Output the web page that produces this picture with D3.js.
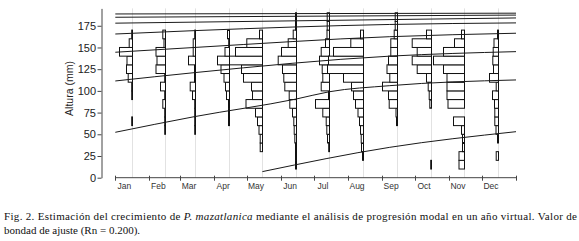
<!DOCTYPE html>
<html>
<head>
<meta charset="utf-8">
<script src="https://cdn.jsdelivr.net/npm/d3@7"></script>
<style>
  body { margin: 0; background: #fff; }
  svg { display: block; }
  .cap { font-family: "Liberation Serif", "DejaVu Serif", serif; font-size: 11px; fill: #111; }
</style>
</head>
<body>
<div id="chart"></div>
<script>
// month axis
const months = ["Jan", "Feb", "Mar", "Apr", "May", "Jun", "Jul", "Aug", "Sep", "Oct", "Nov", "Dec"];
const monthStarts = [0, 31, 59, 90, 120, 151, 181, 212, 243, 273, 304, 334, 365];
// day of the virtual year for each sample
const sampleDays = [15, 45, 73, 104, 134, 165, 195, 226, 257, 288, 318, 349];
const yTicks = [0, 25, 50, 75, 100, 125, 150, 175];

// lower edge of each 10 mm length class
const lengthClasses = [10, 20, 30, 40, 50, 60, 70, 80, 90, 100, 110, 120, 130, 140, 150, 160, 170, 180];

// restructured frequencies per month, same order as lengthClasses
const janFreq = [0, 0, 0, 0, 0, 0.8, 0, 0, 0.8, 0.8, 4.3, 6, 5.5, 13, 3.3, 0.8, 0, 0];
const febFreq = [0, 0, 0, 0, 0.8, 0.8, 0.8, 2.7, 0.8, 5, 0.8, 9.5, 8.5, 9.5, 1.5, 2.7, 0, 0];
const marFreq = [0, 0, 0, 0, 0.8, 0.8, 0.8, 0.8, 3, 5.3, 1, 1, 7, 2.3, 2.3, 0.8, 0, 0];
const aprFreq = [0, 0, 0, 0, 0, 1, 1, 1, 3, 4, 5.5, 8.5, 12, 4.5, 0.8, 2, 0, 0];
const mayFreq = [0, 0, 2.3, 2.3, 3.5, 5, 7, 16.5, 10, 11, 19, 21, 33, 27, 15.7, 3, 0, 0];
const junFreq = [1, 1, 1, 1.7, 2.3, 2.7, 4, 6.7, 7.3, 11.7, 12.7, 14, 18.3, 15, 8.3, 3.3, 1, 1];
const julFreq = [0, 0, 0.8, 2, 2.7, 3.3, 6.7, 14, 1, 8.3, 6.7, 7.3, 10, 8.3, 4, 2.5, 2.3, 2.3];
const augFreq = [0, 1, 2, 2.3, 3, 4, 5.5, 8, 10, 12, 20, 36, 35, 30, 12.7, 3, 0, 0];
const sepFreq = [0, 0, 0, 0, 0, 1, 1.5, 8.3, 9, 15, 7.7, 10.5, 9, 6.7, 6.7, 3.3, 2.3, 2.3];
const octFreq = [0.8, 0, 0, 0, 0, 0, 0, 1.7, 2.3, 3.3, 5, 14.3, 19.3, 14.3, 19.3, 5, 0, 0];
const novFreq = [5.5, 5.5, 2, 2, 3, 11, 0, 16.5, 17.5, 17.5, 17.5, 21, 31, 21, 10, 3, 0, 0];
const decFreq = [0, 2.3, 0, 1, 2.5, 3.7, 3.7, 4, 6, 2.3, 9, 5, 5.7, 5.3, 4.5, 1, 0, 0];
const monthlyFreq = [janFreq, febFreq, marFreq, aprFreq, mayFreq, junFreq,
                     julFreq, augFreq, sepFreq, octFreq, novFreq, decFreq];

// growth curves: [day, length mm]
const curveE = [[134, 7], [250, 35], [365, 53]];
const curveA = [[0, 52.3], [72, 70.3], [165, 90.7], [195, 99], [250, 106], [365, 112.6]];
const curveB = [[0, 111.4], [72, 121], [250, 140], [365, 145.2]];
const curveC = [[0, 144.5], [72, 150], [250, 162.4], [365, 166.4]];
const curveD = [[0, 165.5], [72, 169.4], [250, 176.5], [365, 178.3]];
const curveF = [[0, 178], [365, 184]];
const curveG = [[0, 184.8], [365, 187.3]];
const curveH = [[0, 188.6], [365, 189.5]];
const growthCurves = [curveE, curveA, curveB, curveC, curveD, curveF, curveG, curveH];

const W = 579, H = 241;

const svg = d3.select("#chart")
    .append("svg")
    .attr("width", W)
    .attr("height", H);

// scales
const x = d3.scaleLinear().domain([0, 365]).range([115.3, 516]);
const y = d3.scaleLinear().domain([0, 195]).range([177.7, 8.4]);
const barW = d3.scaleLinear().domain([0, 10]).range([0, 10]);

// vertical grid at each sample date
svg.append("g")
    .selectAll("line")
    .data(sampleDays)
    .join("line")
    .attr("x1", d => Math.round(x(d)) + 0.5)
    .attr("x2", d => Math.round(x(d)) + 0.5)
    .attr("y1", y(195))
    .attr("y2", y(0))
    .attr("stroke", "#e2e2e2")
    .attr("stroke-width", 1);

// histograms, bars grow to the left of the sample date
const hist = svg.append("g");
monthlyFreq.forEach((freq, i) => {
    const base = Math.round(x(sampleDays[i])) + 0.5;
    const cells = lengthClasses.map((c, j) => ({c: c, f: freq[j]})).filter(d => d.f > 0);
    hist.append("g")
        .selectAll("rect")
        .data(cells)
        .join("rect")
        .attr("x", d => base - barW(d.f))
        .attr("y", d => y(d.c + 10))
        .attr("width", d => barW(d.f))
        .attr("height", d => y(d.c) - y(d.c + 10))
        .attr("fill", "#fff")
        .attr("stroke", "#111")
        .attr("stroke-width", 1);
});

// growth curves
const line = d3.line()
    .x(d => x(d[0]))
    .y(d => y(d[1]))
    .curve(d3.curveMonotoneX);

svg.append("g")
    .selectAll("path")
    .data(growthCurves)
    .join("path")
    .attr("d", line)
    .attr("fill", "none")
    .attr("stroke", "#1a1a1a")
    .attr("stroke-width", 1);

// y axis
const yAxis = svg.append("g")
    .attr("transform", "translate(101.5,0)")
    .call(d3.axisLeft(y).tickValues(yTicks).tickSize(4).tickSizeOuter(0).tickPadding(1.5));
yAxis.selectAll("text")
    .style("font-family", "'Liberation Sans', Arial, sans-serif")
    .style("font-size", "11px")
    .attr("fill", "#222");
yAxis.selectAll("line, path").attr("stroke", "#444");

svg.append("text")
    .attr("transform", "translate(73,88.5) rotate(-90)")
    .attr("text-anchor", "middle")
    .style("font-family", "'Liberation Sans', Arial, sans-serif")
    .style("font-size", "10.5px")
    .attr("fill", "#222")
    .text("Altura (mm)");

// x axis: month boundaries
const xAxis = svg.append("g")
    .attr("transform", `translate(0,${y(0)})`);
xAxis.append("line")
    .attr("x1", x(0))
    .attr("x2", x(365))
    .attr("stroke", "#444");
xAxis.selectAll(".tick")
    .data(monthStarts)
    .join("line")
    .attr("class", "tick")
    .attr("x1", d => Math.round(x(d)) + 0.5)
    .attr("x2", d => Math.round(x(d)) + 0.5)
    .attr("y1", -2)
    .attr("y2", 3)
    .attr("stroke", "#444");
xAxis.selectAll(".mlabel")
    .data(months)
    .join("text")
    .attr("class", "mlabel")
    .attr("x", (d, i) => x(monthStarts[i]) + 9)
    .attr("y", 11.5)
    .attr("text-anchor", "middle")
    .style("font-family", "'Liberation Sans', Arial, sans-serif")
    .style("font-size", "8.5px")
    .attr("fill", "#333")
    .text(d => d);

// caption
const cap1 = svg.append("text")
    .attr("class", "cap")
    .attr("x", 4)
    .attr("y", 219.5)
    .attr("textLength", 573)
    .attr("lengthAdjust", "spacing");
cap1.append("tspan").text("Fig. 2. Estimación del crecimiento de ");
cap1.append("tspan").style("font-style", "italic").text("P. mazatlanica");
cap1.append("tspan").text(" mediante el análisis de progresión modal en un año virtual. Valor de");
svg.append("text")
    .attr("class", "cap")
    .attr("x", 4)
    .attr("y", 234)
    .text("bondad de ajuste (Rn = 0.200).");
</script>
</body>
</html>
